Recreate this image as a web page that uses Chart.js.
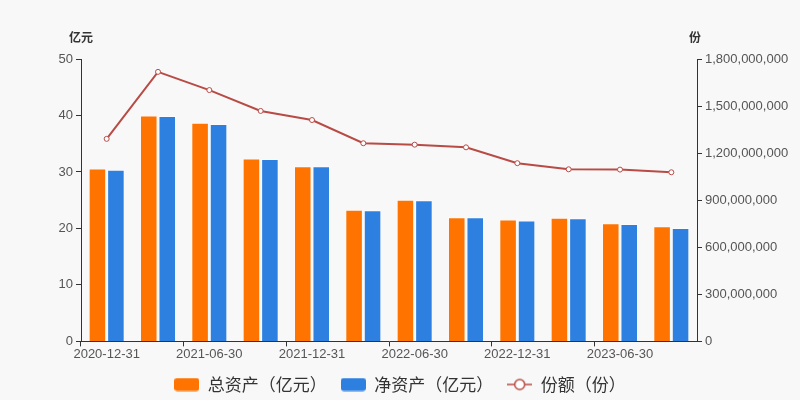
<!DOCTYPE html>
<html lang="zh">
<head>
<meta charset="UTF-8">
<title>总资产 / 净资产 / 份额</title>
<style>
  html, body { margin: 0; padding: 0; background: #f8f8f8; }
  .container { width: 800px; height: 400px; position: relative; }
</style>
</head>
<body>
<div class="container">
  <canvas id="chart"></canvas>
</div>
<script src="https://cdn.jsdelivr.net/npm/chart.js"></script>
<script>
// chart values
const categories = ["2020-12-31", "2021-03-31", "2021-06-30", "2021-09-30", "2021-12-31", "2022-03-31",
  "2022-06-30", "2022-09-30", "2022-12-31", "2023-03-31", "2023-06-30", "2023-09-30"];
const totalAssets = [30.6, 40.0, 38.7, 32.4, 31.0, 23.3, 25.1, 22.0, 21.6, 21.9, 20.9, 20.4];
const netAssets = [30.4, 39.9, 38.5, 32.3, 31.0, 23.2, 25.0, 22.0, 21.4, 21.8, 20.8, 20.1];
const shares = [1291000000, 1718000000, 1602000000, 1469000000, 1411000000, 1263000000,
  1254000000, 1237000000, 1136000000, 1097000000, 1095000000, 1078000000];
const seriesNames = ["总资产（亿元）", "净资产（亿元）", "份额（份）"];
const leftTicks = [0, 10, 20, 30, 40, 50];
const rightTicks = [0, 300000000, 600000000, 900000000, 1200000000, 1500000000, 1800000000];

const ORANGE = "#ff7300";
const BLUE = "#2e80e0";
const LINE = "#b84b45";

Chart.defaults.font.family = '"Liberation Sans", "Noto Sans CJK SC", sans-serif';
Chart.defaults.color = "#555";

// legend markers as little canvases
function boxMarker(color) {
  const c = document.createElement("canvas");
  c.width = 25; c.height = 14;
  const g = c.getContext("2d");
  g.fillStyle = color;
  g.beginPath();
  g.roundRect(0, 0.5, 25, 13, 3);
  g.fill();
  return c;
}
function lineMarker(color) {
  const c = document.createElement("canvas");
  c.width = 25; c.height = 14;
  const g = c.getContext("2d");
  g.strokeStyle = color;
  g.lineWidth = 1.5;
  g.beginPath();
  g.moveTo(0, 7); g.lineTo(25, 7);
  g.stroke();
  g.fillStyle = "#fff";
  g.beginPath();
  g.arc(12.5, 7, 5, 0, Math.PI * 2);
  g.fill();
  g.stroke();
  return c;
}
const markers = [boxMarker(ORANGE), boxMarker(BLUE), lineMarker(LINE)];

// unit labels above the two y axes
const unitTitles = {
  id: "unitTitles",
  afterDraw(chart) {
    const ctx = chart.ctx;
    ctx.save();
    ctx.font = 'bold 12px "Noto Sans CJK SC", sans-serif';
    ctx.fillStyle = "#333";
    ctx.textAlign = "center";
    ctx.textBaseline = "middle";
    ctx.fillText("亿元", chart.scales.y.right, 37);
    ctx.fillText("份", chart.scales.y1.left - 2, 37);
    ctx.restore();
  }
};

const tickMarkColor = (c) => (c.index % 2 === 0 ? "#333" : "rgba(0,0,0,0)");

new Chart(document.getElementById("chart").getContext("2d"), {
  type: "bar",
  data: {
    labels: categories,
    datasets: [
      {
        label: seriesNames[0],
        data: totalAssets,
        backgroundColor: ORANGE,
        borderColor: "rgba(255,255,255,0.45)",
        borderWidth: 1,
        categoryPercentage: 0.72,
        barPercentage: 0.95,
        yAxisID: "y",
        order: 1
      },
      {
        label: seriesNames[1],
        data: netAssets,
        backgroundColor: BLUE,
        borderColor: "rgba(255,255,255,0.45)",
        borderWidth: 1,
        categoryPercentage: 0.72,
        barPercentage: 0.95,
        yAxisID: "y",
        order: 1
      },
      {
        type: "line",
        label: seriesNames[2],
        data: shares,
        borderColor: LINE,
        borderWidth: 2,
        pointRadius: 2.5,
        pointBackgroundColor: "#fff",
        pointBorderColor: LINE,
        pointBorderWidth: 1,
        tension: 0,
        yAxisID: "y1",
        order: 0
      }
    ]
  },
  options: {
    responsive: true,
    maintainAspectRatio: false,
    animation: false,
    layout: { padding: { top: 59, bottom: -3, left: 0, right: 0 } },
    plugins: {
      tooltip: { enabled: false },
      legend: {
        display: true,
        position: "bottom",
        labels: {
          usePointStyle: true,
          pointStyleWidth: 25,
          boxHeight: 14,
          padding: 14,
          color: "#333",
          font: { size: 17, family: '"Noto Sans CJK SC", sans-serif' },
          sort: (a, b) => a.datasetIndex - b.datasetIndex,
          generateLabels(chart) {
            const items = Chart.defaults.plugins.legend.labels.generateLabels(chart);
            items.forEach((it) => { it.pointStyle = markers[it.datasetIndex]; });
            return items;
          }
        }
      }
    },
    scales: {
      x: {
        type: "category",
        offset: true,
        grid: {
          offset: true,
          drawOnChartArea: false,
          drawTicks: true,
          tickLength: 5,
          tickColor: tickMarkColor
        },
        border: { color: "#333", width: 1 },
        ticks: {
          autoSkip: false,
          maxRotation: 0,
          padding: 0,
          font: { size: 13 },
          callback(value, index) {
            return index % 2 === 0 ? this.getLabelForValue(value) : "";
          }
        }
      },
      y: {
        position: "left",
        min: 0,
        max: 50,
        afterBuildTicks(scale) { scale.ticks = leftTicks.map((v) => ({ value: v })); },
        afterFit(scale) { scale.width = 81; },
        grid: { drawOnChartArea: false, tickLength: 5, tickColor: "#333" },
        border: { color: "#333", width: 1 },
        ticks: { padding: 3, font: { size: 13 } }
      },
      y1: {
        position: "right",
        min: 0,
        max: 1800000000,
        afterBuildTicks(scale) { scale.ticks = rightTicks.map((v) => ({ value: v })); },
        afterFit(scale) { scale.width = 103; },
        grid: { drawOnChartArea: false, tickLength: 5, tickColor: "#333" },
        border: { color: "#333", width: 1 },
        ticks: {
          padding: 3,
          font: { size: 13 },
          callback: (v) => Number(v).toLocaleString("en-US")
        }
      }
    }
  },
  plugins: [unitTitles]
});
</script>
</body>
</html>
